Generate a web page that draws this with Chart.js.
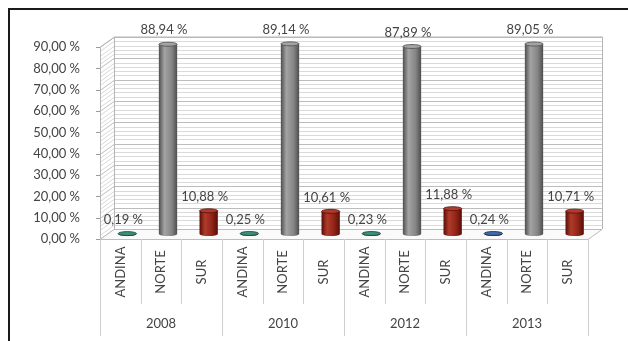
<!DOCTYPE html>
<html lang="es">
<head>
<meta charset="utf-8">
<title>Participación por región</title>
<script src="https://cdn.jsdelivr.net/npm/chart.js@4.4.1/dist/chart.umd.min.js"></script>
<style>
  html, body { margin: 0; padding: 0; background: #fff; }
  canvas { display: block; }
</style>
</head>
<body>
<canvas id="regionChart" width="628" height="341"></canvas>
<script>
const years = ["2008", "2010", "2012", "2013"];
const regions = ["ANDINA", "NORTE", "SUR"];
const andina = [0.19, 0.25, 0.23, 0.24];
const norte = [88.94, 89.14, 87.89, 89.05];
const sur = [10.88, 10.61, 11.88, 10.71];
const yMax = 90;
const yStep = 10;

/* colores de las columnas */
const andinaColors = [
  { base: "#1f6e5b", dark: "#0f4536", light: "#3a8f7a" },
  { base: "#1f6e5b", dark: "#0f4536", light: "#3a8f7a" },
  { base: "#1f6e5b", dark: "#0f4536", light: "#3a8f7a" },
  { base: "#27477f", dark: "#142a52", light: "#4569a5" }
];
const norteColor = { base: "#858585", dark: "#4e4e4e", light: "#a3a3a3" };
const surColor = { base: "#8e2317", dark: "#560e07", light: "#b13b2b" };

const FONT = "Lato, 'Open Sans', sans-serif";
const TEXT = "#444444";
const DX = 14;
const DY = -10;

const fmt = (v) => v.toFixed(2).replace(".", ",") + " %";

const labels = [];
const values = [];
const colors = [];
years.forEach((yr, i) => {
  labels.push(...regions);
  values.push(andina[i], norte[i], sur[i]);
  colors.push(andinaColors[i], norteColor, surColor);
});

/* ========================= */
/* PAREDES, PISO Y COLUMNAS  */
/* ========================= */

const threeD = {
  id: "threeD",

  beforeDraw(chart) {
    const { ctx, width, height } = chart;
    ctx.save();
    ctx.fillStyle = "#fff";
    ctx.fillRect(0, 0, width, height);
    ctx.fillStyle = "#1a1a1a";
    ctx.fillRect(8, 8, width - 8, 2);
    ctx.fillRect(8, 8, 2, height - 8);
    ctx.restore();
  },

  beforeDatasetsDraw(chart) {
    const { ctx, chartArea: a, scales: { x, y } } = chart;
    ctx.save();
    ctx.lineWidth = 1;

    // rayas del fondo y de la pared lateral
    for (let v = 0; v <= yMax; v += 2) {
      const py = Math.round(y.getPixelForValue(v)) + 0.5;
      ctx.strokeStyle = v % yStep === 0 ? "#bdbdbd" : "#dadada";
      ctx.beginPath();
      ctx.moveTo(a.left, py);
      ctx.lineTo(a.left + DX, py + DY);
      ctx.lineTo(a.right + DX, py + DY);
      ctx.stroke();
      if (v % yStep === 0) {
        ctx.strokeStyle = "#9a9a9a";
        ctx.beginPath();
        ctx.moveTo(a.left - 4, py);
        ctx.lineTo(a.left, py);
        ctx.stroke();
      }
    }

    // bordes de las paredes
    ctx.strokeStyle = "#b5b5b5";
    ctx.beginPath();
    ctx.moveTo(a.left + 0.5, a.bottom);
    ctx.lineTo(a.left + 0.5, a.top);
    ctx.lineTo(a.left + DX + 0.5, a.top + DY);
    ctx.lineTo(a.right + DX + 0.5, a.top + DY);
    ctx.lineTo(a.right + DX + 0.5, a.bottom + DY);
    ctx.moveTo(a.left + DX + 0.5, a.top + DY);
    ctx.lineTo(a.left + DX + 0.5, a.bottom + DY);
    ctx.stroke();

    // piso
    ctx.fillStyle = "#fafafa";
    ctx.strokeStyle = "#bdbdbd";
    ctx.beginPath();
    ctx.moveTo(a.left, a.bottom + 0.5);
    ctx.lineTo(a.right, a.bottom + 0.5);
    ctx.lineTo(a.right + DX, a.bottom + DY + 0.5);
    ctx.lineTo(a.left + DX, a.bottom + DY + 0.5);
    ctx.closePath();
    ctx.fill();
    ctx.stroke();

    // divisiones del eje de categorías
    const half = (x.getPixelForValue(1) - x.getPixelForValue(0)) / 2;
    ctx.strokeStyle = "#cfcfcf";
    for (let i = 0; i <= labels.length; i++) {
      const px = Math.round(x.getPixelForValue(i) - half) + 0.5;
      const end = i % regions.length === 0 ? 336 : 304;
      ctx.beginPath();
      ctx.moveTo(px, a.bottom);
      ctx.lineTo(px, end);
      ctx.stroke();
    }

    // nombres de región en vertical
    ctx.fillStyle = TEXT;
    ctx.font = "13px " + FONT;
    ctx.textAlign = "center";
    ctx.textBaseline = "middle";
    labels.forEach((lb, i) => {
      ctx.save();
      ctx.translate(x.getPixelForValue(i), 272);
      ctx.rotate(-Math.PI / 2);
      ctx.fillText(lb, 0, 0);
      ctx.restore();
    });

    ctx.restore();
  },

  afterDatasetsDraw(chart) {
    const { ctx } = chart;
    const meta = chart.getDatasetMeta(0);
    ctx.save();

    meta.data.forEach((bar, i) => {
      const c = colors[i];
      const cx = bar.x + DX / 2;
      const top = bar.y + DY / 2;
      const bottom = bar.base + DY / 2;
      const w = bar.width;
      const l = cx - w / 2;
      const r = cx + w / 2;
      const ry = 2;

      const g = ctx.createLinearGradient(l, 0, r, 0);
      g.addColorStop(0, c.dark);
      g.addColorStop(0.3, c.light);
      g.addColorStop(0.7, c.base);
      g.addColorStop(1, c.dark);

      ctx.fillStyle = g;
      ctx.beginPath();
      ctx.moveTo(l, top);
      ctx.lineTo(l, bottom);
      ctx.ellipse(cx, bottom, w / 2, ry, 0, Math.PI, 0, true);
      ctx.lineTo(r, top);
      ctx.closePath();
      ctx.fill();

      ctx.fillStyle = c.light;
      ctx.beginPath();
      ctx.ellipse(cx, top, w / 2, ry, 0, 0, Math.PI * 2);
      ctx.fill();
      ctx.strokeStyle = c.dark;
      ctx.lineWidth = 0.8;
      ctx.stroke();

      ctx.fillStyle = TEXT;
      ctx.font = "13px " + FONT;
      ctx.textAlign = "center";
      ctx.textBaseline = "middle";
      ctx.fillText(fmt(values[i]), cx - 4, top - 14);
    });

    ctx.restore();
  }
};

const ctx = document.getElementById("regionChart").getContext("2d");

new Chart(ctx, {
  type: "bar",
  data: {
    labels: labels,
    datasets: [{
      data: values,
      backgroundColor: "rgba(0,0,0,0)",
      borderWidth: 0,
      categoryPercentage: 1,
      barPercentage: 0.45
    }]
  },
  options: {
    responsive: false,
    animation: false,
    layout: { padding: { top: 47, right: 40, left: 0, bottom: 0 } },
    plugins: {
      legend: { display: false },
      tooltip: { enabled: false }
    },
    scales: {
      y: {
        min: 0,
        max: yMax,
        grid: { display: false },
        border: { display: false },
        ticks: {
          stepSize: yStep,
          padding: 12,
          color: TEXT,
          font: { family: FONT, size: 13 },
          callback: (v) => fmt(v)
        },
        afterFit: (s) => { s.width = 100; }
      },
      x: {
        type: "category",
        weight: 0,
        grid: { display: false },
        border: { display: false },
        ticks: { display: false },
        afterFit: (s) => { s.height = 64; }
      },
      x2: {
        type: "category",
        position: "bottom",
        weight: 1,
        labels: years,
        offset: true,
        grid: { display: false },
        border: { display: false },
        ticks: {
          padding: 5,
          color: TEXT,
          maxRotation: 0,
          font: { family: FONT, size: 13 }
        },
        afterFit: (s) => { s.height = 38; }
      }
    }
  },
  plugins: [threeD]
});
</script>
</body>
</html>
